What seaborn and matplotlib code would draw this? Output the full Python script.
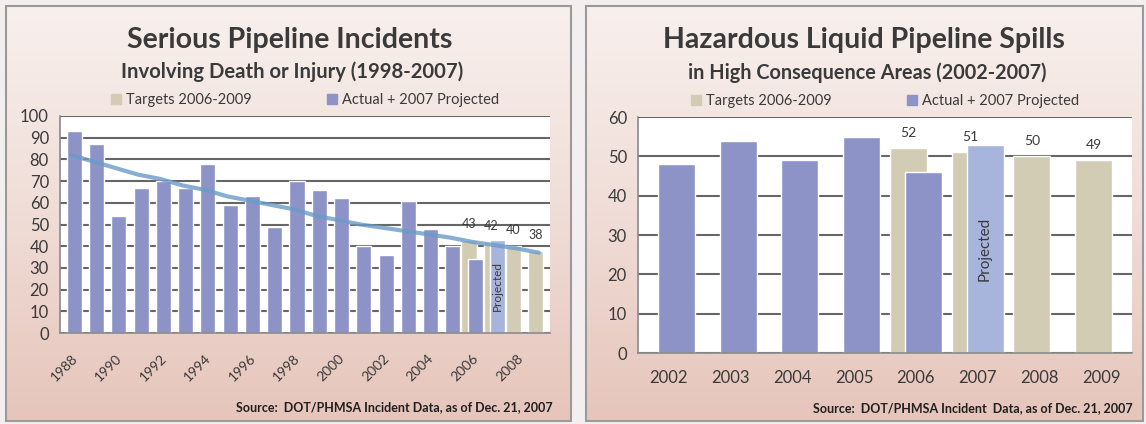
import numpy as np
import pandas as pd
import seaborn as sns
import matplotlib.pyplot as plt
from matplotlib.patches import Patch, Rectangle

# ---- data: serious incidents (left panel)
inc_years = [str(y) for y in range(1988, 2010)]
inc_actual = [93, 87, 54, 67, 70, 67, 78, 59, 63, 49, 70, 66, 62, 40, 36,
              61, 48, 40, 34, 43, np.nan, np.nan]
inc_target = [np.nan] * 18 + [43, 42, 40, 38]
inc_trend = [82, 79, 76, 73, 71, 68, 66, 63, 61, 59, 57, 54, 52, 50, 48.5,
             47, 45.5, 44, 42, 40.5, 39, 37]

# ---- data: hazardous liquid spills (right panel)
hca_years = [str(y) for y in range(2002, 2010)]
hca_actual = [48, 54, 49, 55, 46, 53, np.nan, np.nan]
hca_target = [np.nan, np.nan, np.nan, np.nan, 52, 51, 50, 49]

projected_year = '2007'

blue = '#8d93c6'
light_blue = '#a7b5dc'
tan = '#d3ccb5'
trend_col = '#6b9bc9'
grid_col = '#666666'
text_col = '#3a3a3a'

sns.set_theme(style='white')
plt.rcParams['font.family'] = ['Lato', 'DejaVu Sans']

W, H = 1146, 424
fig = plt.figure(figsize=(W / 100, H / 100), dpi=100)
fig.patch.set_facecolor('#f3efee')


def px(x0, y0, x1, y1):
    # pixel box (top-left origin) -> figure fraction rect
    return [x0 / W, 1 - y1 / H, (x1 - x0) / W, (y1 - y0) / H]


def panel(x0, x1):
    bg = fig.add_axes(px(x0, 6, x1, 421), zorder=-5)
    grad = np.linspace(0, 1, 256).reshape(-1, 1)
    cmap = sns.blend_palette(['#f8f0ed', '#f0ddd7', '#e6c5bb'], as_cmap=True)
    bg.imshow(grad, aspect='auto', cmap=cmap, extent=[0, 1, 0, 1])
    bg.set_axis_off()
    bg.add_patch(Rectangle((0, 0), 1, 1, transform=bg.transAxes, fill=False,
                           edgecolor='#9a9a9a', linewidth=1.5, clip_on=False))


def draw(ax, years, actual, target, width, shift, ymax, lab_size, proj_size):
    sns.barplot(x=years, y=target, order=years, color=tan, width=width,
                saturation=1, ax=ax)
    n_t = len(ax.patches)
    sns.barplot(x=years, y=actual, order=years, color=blue, width=width,
                saturation=1, ax=ax)
    for i, p in enumerate(ax.patches):
        if i < n_t:
            p.set_x(p.get_x() - shift)
        else:
            p.set_x(p.get_x() + shift)
            cx = p.get_x() + p.get_width() / 2
            if years[int(round(cx - shift))] == projected_year:
                p.set_facecolor(light_blue)
                ax.text(cx, p.get_height() / 2, 'Projected', rotation=90,
                        ha='center', va='center', fontsize=proj_size,
                        color=text_col, zorder=5)
    ax.bar_label(ax.containers[0], fmt='%d', padding=7, fontsize=lab_size,
                 color=text_col)
    ax.set_ylim(0, ymax)
    ax.set_yticks(range(0, ymax + 1, 10))
    ax.set_xlim(-0.5, len(years) - 0.5)
    ax.yaxis.grid(True, color=grid_col, linewidth=1.5)
    ax.set_axisbelow(True)
    sns.despine(ax=ax, top=True, right=True)
    for s in ['left', 'bottom']:
        ax.spines[s].set_color('#8a8a8a')
        ax.spines[s].set_linewidth(1.2)
    ax.tick_params(axis='y', length=4, color=grid_col, labelsize=12,
                   labelcolor=text_col, pad=4)
    ax.set_facecolor('white')
    ax.legend(handles=[Patch(color=tan, label='Targets 2006-2009'),
                       Patch(color=blue, label='Actual + 2007 Projected')],
              loc='lower center', bbox_to_anchor=(0.5, 1.0), ncol=2,
              frameon=False, fontsize=10.5, handlelength=0.7,
              handleheight=0.7, handletextpad=0.3, columnspacing=5.2,
              borderaxespad=0.2, labelcolor=text_col)


# ---- left panel
panel(6, 571)
ax1 = fig.add_axes(px(60, 116, 550, 333))
draw(ax1, inc_years, inc_actual, inc_target, 0.68, 0.14, 100, 9, 8.5)
sns.lineplot(x=np.arange(len(inc_years)), y=inc_trend, ax=ax1,
             color=trend_col, linewidth=3, alpha=0.8, zorder=4)
ax1.set_xticks(range(len(inc_years)))
ax1.set_xticklabels([y if int(y) % 2 == 0 else '' for y in inc_years],
                    rotation=45, ha='right', rotation_mode='anchor',
                    fontsize=10, color=text_col)
ax1.tick_params(axis='x', length=0, pad=14)

fig.text(290 / W, 1 - 40 / H, 'Serious Pipeline Incidents', ha='center',
         va='center', fontsize=20.5, fontweight='bold', color=text_col)
fig.text(292 / W, 1 - 72 / H, 'Involving Death or Injury (1998-2007)',
         ha='center', va='center', fontsize=14.6, fontweight='bold',
         color=text_col)
fig.text(553 / W, 1 - 407 / H,
         'Source:  DOT/PHMSA Incident Data, as of Dec. 21, 2007',
         ha='right', va='center', fontsize=9, fontweight='bold',
         color='#202020')

# ---- right panel
panel(586, 1143)
ax2 = fig.add_axes(px(638, 117, 1132, 353))
draw(ax2, hca_years, hca_actual, hca_target, 0.6, 0.12, 60, 10, 11)
ax2.tick_params(axis='x', length=0, pad=12, labelsize=12,
                labelcolor=text_col)

fig.text(864 / W, 1 - 40 / H, 'Hazardous Liquid Pipeline Spills', ha='center',
         va='center', fontsize=20.5, fontweight='bold', color=text_col)
fig.text(867 / W, 1 - 73 / H, 'in High Consequence Areas (2002-2007)',
         ha='center', va='center', fontsize=14.3, fontweight='bold',
         color=text_col)
fig.text(1133 / W, 1 - 408 / H,
         'Source:  DOT/PHMSA Incident  Data, as of Dec. 21, 2007',
         ha='right', va='center', fontsize=9, fontweight='bold',
         color='#202020')

fig.savefig('out.png', dpi=100, facecolor=fig.get_facecolor())
